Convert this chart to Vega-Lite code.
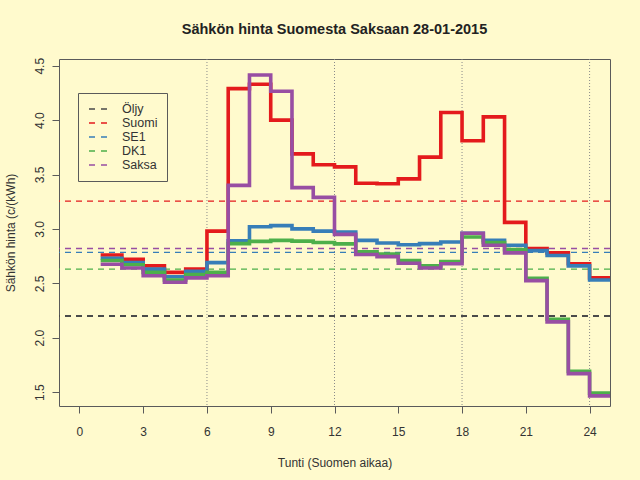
{
  "$schema": "https://vega.github.io/schema/vega-lite/v6.json",
  "width": 551,
  "height": 347,
  "autosize": "none",
  "padding": {"left": 59, "top": 59, "right": 30, "bottom": 74},
  "background": "#FFFACD",
  "title": {
    "text": "Sähkön hinta Suomesta Saksaan 28-01-2015",
    "anchor": "middle",
    "font": "Liberation Sans",
    "fontSize": 14.5,
    "fontWeight": "bold",
    "color": "#222222",
    "offset": 20
  },
  "datasets": {
    "tunnit": [
      {"tunti": 1, "sarja": "Suomi", "hinta": 2.76},
      {"tunti": 2, "sarja": "Suomi", "hinta": 2.72},
      {"tunti": 3, "sarja": "Suomi", "hinta": 2.66},
      {"tunti": 4, "sarja": "Suomi", "hinta": 2.60},
      {"tunti": 5, "sarja": "Suomi", "hinta": 2.63},
      {"tunti": 6, "sarja": "Suomi", "hinta": 2.98},
      {"tunti": 7, "sarja": "Suomi", "hinta": 4.29},
      {"tunti": 8, "sarja": "Suomi", "hinta": 4.33},
      {"tunti": 9, "sarja": "Suomi", "hinta": 4.00},
      {"tunti": 10, "sarja": "Suomi", "hinta": 3.69},
      {"tunti": 11, "sarja": "Suomi", "hinta": 3.59},
      {"tunti": 12, "sarja": "Suomi", "hinta": 3.57},
      {"tunti": 13, "sarja": "Suomi", "hinta": 3.42},
      {"tunti": 14, "sarja": "Suomi", "hinta": 3.415},
      {"tunti": 15, "sarja": "Suomi", "hinta": 3.46},
      {"tunti": 16, "sarja": "Suomi", "hinta": 3.66},
      {"tunti": 17, "sarja": "Suomi", "hinta": 4.07},
      {"tunti": 18, "sarja": "Suomi", "hinta": 3.81},
      {"tunti": 19, "sarja": "Suomi", "hinta": 4.03},
      {"tunti": 20, "sarja": "Suomi", "hinta": 3.06},
      {"tunti": 21, "sarja": "Suomi", "hinta": 2.82},
      {"tunti": 22, "sarja": "Suomi", "hinta": 2.78},
      {"tunti": 23, "sarja": "Suomi", "hinta": 2.68},
      {"tunti": 24, "sarja": "Suomi", "hinta": 2.55},
      {"tunti": 25, "sarja": "Suomi", "hinta": 2.55},
      {"tunti": 1, "sarja": "SE1", "hinta": 2.73},
      {"tunti": 2, "sarja": "SE1", "hinta": 2.69},
      {"tunti": 3, "sarja": "SE1", "hinta": 2.63},
      {"tunti": 4, "sarja": "SE1", "hinta": 2.56},
      {"tunti": 5, "sarja": "SE1", "hinta": 2.61},
      {"tunti": 6, "sarja": "SE1", "hinta": 2.69},
      {"tunti": 7, "sarja": "SE1", "hinta": 2.89},
      {"tunti": 8, "sarja": "SE1", "hinta": 3.02},
      {"tunti": 9, "sarja": "SE1", "hinta": 3.03},
      {"tunti": 10, "sarja": "SE1", "hinta": 3.00},
      {"tunti": 11, "sarja": "SE1", "hinta": 2.98},
      {"tunti": 12, "sarja": "SE1", "hinta": 2.97},
      {"tunti": 13, "sarja": "SE1", "hinta": 2.895},
      {"tunti": 14, "sarja": "SE1", "hinta": 2.87},
      {"tunti": 15, "sarja": "SE1", "hinta": 2.855},
      {"tunti": 16, "sarja": "SE1", "hinta": 2.865},
      {"tunti": 17, "sarja": "SE1", "hinta": 2.88},
      {"tunti": 18, "sarja": "SE1", "hinta": 2.96},
      {"tunti": 19, "sarja": "SE1", "hinta": 2.895},
      {"tunti": 20, "sarja": "SE1", "hinta": 2.85},
      {"tunti": 21, "sarja": "SE1", "hinta": 2.80},
      {"tunti": 22, "sarja": "SE1", "hinta": 2.755},
      {"tunti": 23, "sarja": "SE1", "hinta": 2.66},
      {"tunti": 24, "sarja": "SE1", "hinta": 2.53},
      {"tunti": 25, "sarja": "SE1", "hinta": 2.53},
      {"tunti": 1, "sarja": "DK1", "hinta": 2.71},
      {"tunti": 2, "sarja": "DK1", "hinta": 2.67},
      {"tunti": 3, "sarja": "DK1", "hinta": 2.60},
      {"tunti": 4, "sarja": "DK1", "hinta": 2.53},
      {"tunti": 5, "sarja": "DK1", "hinta": 2.58},
      {"tunti": 6, "sarja": "DK1", "hinta": 2.60},
      {"tunti": 7, "sarja": "DK1", "hinta": 2.865},
      {"tunti": 8, "sarja": "DK1", "hinta": 2.885},
      {"tunti": 9, "sarja": "DK1", "hinta": 2.895},
      {"tunti": 10, "sarja": "DK1", "hinta": 2.888},
      {"tunti": 11, "sarja": "DK1", "hinta": 2.875},
      {"tunti": 12, "sarja": "DK1", "hinta": 2.862},
      {"tunti": 13, "sarja": "DK1", "hinta": 2.79},
      {"tunti": 14, "sarja": "DK1", "hinta": 2.77},
      {"tunti": 15, "sarja": "DK1", "hinta": 2.71},
      {"tunti": 16, "sarja": "DK1", "hinta": 2.66},
      {"tunti": 17, "sarja": "DK1", "hinta": 2.70},
      {"tunti": 18, "sarja": "DK1", "hinta": 2.925},
      {"tunti": 19, "sarja": "DK1", "hinta": 2.875},
      {"tunti": 20, "sarja": "DK1", "hinta": 2.81},
      {"tunti": 21, "sarja": "DK1", "hinta": 2.545},
      {"tunti": 22, "sarja": "DK1", "hinta": 2.17},
      {"tunti": 23, "sarja": "DK1", "hinta": 1.69},
      {"tunti": 24, "sarja": "DK1", "hinta": 1.49},
      {"tunti": 25, "sarja": "DK1", "hinta": 1.49},
      {"tunti": 1, "sarja": "Saksa", "hinta": 2.675},
      {"tunti": 2, "sarja": "Saksa", "hinta": 2.64},
      {"tunti": 3, "sarja": "Saksa", "hinta": 2.57},
      {"tunti": 4, "sarja": "Saksa", "hinta": 2.51},
      {"tunti": 5, "sarja": "Saksa", "hinta": 2.55},
      {"tunti": 6, "sarja": "Saksa", "hinta": 2.57},
      {"tunti": 7, "sarja": "Saksa", "hinta": 3.40},
      {"tunti": 8, "sarja": "Saksa", "hinta": 4.415},
      {"tunti": 9, "sarja": "Saksa", "hinta": 4.265},
      {"tunti": 10, "sarja": "Saksa", "hinta": 3.38},
      {"tunti": 11, "sarja": "Saksa", "hinta": 3.29},
      {"tunti": 12, "sarja": "Saksa", "hinta": 2.95},
      {"tunti": 13, "sarja": "Saksa", "hinta": 2.765},
      {"tunti": 14, "sarja": "Saksa", "hinta": 2.745},
      {"tunti": 15, "sarja": "Saksa", "hinta": 2.685},
      {"tunti": 16, "sarja": "Saksa", "hinta": 2.64},
      {"tunti": 17, "sarja": "Saksa", "hinta": 2.68},
      {"tunti": 18, "sarja": "Saksa", "hinta": 2.96},
      {"tunti": 19, "sarja": "Saksa", "hinta": 2.85},
      {"tunti": 20, "sarja": "Saksa", "hinta": 2.78},
      {"tunti": 21, "sarja": "Saksa", "hinta": 2.525},
      {"tunti": 22, "sarja": "Saksa", "hinta": 2.145},
      {"tunti": 23, "sarja": "Saksa", "hinta": 1.67},
      {"tunti": 24, "sarja": "Saksa", "hinta": 1.465},
      {"tunti": 25, "sarja": "Saksa", "hinta": 1.465}
    ],
    "keskiarvot": [
      {"sarja": "Öljy", "hinta": 2.2},
      {"sarja": "Suomi", "hinta": 3.255},
      {"sarja": "SE1", "hinta": 2.785},
      {"sarja": "DK1", "hinta": 2.63},
      {"sarja": "Saksa", "hinta": 2.82}
    ],
    "jaot": [
      {"tunti": 6}, {"tunti": 12}, {"tunti": 18}, {"tunti": 24}
    ]
  },
  "layer": [
    {
      "data": {"name": "jaot"},
      "mark": {"type": "rule", "color": "#8a8a8a", "strokeWidth": 1, "strokeDash": [1, 2]},
      "encoding": {
        "x": {
          "field": "tunti",
          "type": "quantitative",
          "scale": {"domain": [-0.96, 24.96], "nice": false, "zero": false},
          "axis": {
            "values": [0, 3, 6, 9, 12, 15, 18, 21, 24],
            "title": "Tunti (Suomen aikaa)",
            "labelPadding": 13,
            "titlePadding": 20
          }
        }
      }
    },
    {
      "data": {"name": "keskiarvot"},
      "mark": {"type": "rule", "strokeDash": [6, 5]},
      "encoding": {
        "y": {
          "field": "hinta",
          "type": "quantitative",
          "scale": {"domain": [1.372, 4.562], "nice": false, "zero": false},
          "axis": {
            "values": [1.5, 2, 2.5, 3, 3.5, 4, 4.5],
            "format": ".1f",
            "title": "Sähkön hinta (c/(kWh)",
            "labelAngle": -90,
            "labelAlign": "center",
            "labelBaseline": "alphabetic",
            "labelPadding": 9,
            "titlePadding": 16
          }
        },
        "color": {
          "field": "sarja",
          "type": "nominal",
          "scale": {
            "domain": ["Öljy", "Suomi", "SE1", "DK1", "Saksa"],
            "range": ["#4a4a4a", "#e41a1c", "#377eb8", "#4daf4a", "#984ea3"]
          },
          "legend": {
            "title": null,
            "orient": "none",
            "legendX": 19,
            "legendY": 34,
            "symbolType": "M-1.5,0H1.5",
            "symbolSize": 144,
            "symbolStrokeWidth": 1.5,
            "symbolDash": [6, 6],
            "symbolOffset": 4,
            "strokeColor": "#5a5a5a",
            "padding": 9,
            "labelFont": "Liberation Sans",
            "labelFontSize": 12.5,
            "labelColor": "#333333",
            "labelOffset": 17,
            "rowPadding": 0
          }
        },
        "strokeWidth": {
          "condition": {"test": "datum.sarja === 'Öljy'", "value": 2},
          "value": 1.3
        }
      }
    },
    {
      "data": {"name": "tunnit"},
      "mark": {"type": "line", "interpolate": "step-after", "strokeWidth": 3.6, "clip": true},
      "encoding": {
        "x": {"field": "tunti", "type": "quantitative"},
        "y": {"field": "hinta", "type": "quantitative"},
        "color": {"field": "sarja", "type": "nominal", "legend": null}
      }
    }
  ],
  "config": {
    "font": "Liberation Sans",
    "view": {"stroke": "#5a5a5a", "strokeWidth": 1},
    "axis": {
      "domain": false,
      "grid": false,
      "tickSize": 7,
      "tickColor": "#5a5a5a",
      "labelFont": "Liberation Sans",
      "labelFontSize": 12,
      "labelColor": "#333333",
      "titleFont": "Liberation Sans",
      "titleFontSize": 12,
      "titleFontWeight": "normal",
      "titleColor": "#333333"
    }
  }
}
